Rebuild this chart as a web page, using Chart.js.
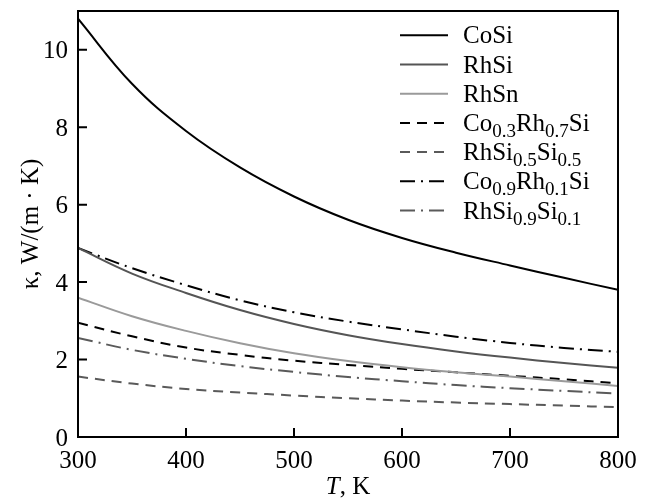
<!DOCTYPE html>
<html>
<head>
<meta charset="utf-8">
<script src="https://cdn.jsdelivr.net/npm/chart.js@4"></script>
<style>
  body { margin: 0; background: #fff; }
  canvas { display: block; }
</style>
</head>
<body>
<canvas id="kappaChart" width="648" height="499"></canvas>
<script>
// temperature grid, K
const temps = [300, 350, 400, 450, 500, 550, 600, 650, 700, 750, 800];

// thermal conductivity, W/(m·K)
const kCoSi = [10.8, 9.12, 7.9, 6.96, 6.21, 5.61, 5.14, 4.76, 4.43, 4.11, 3.8];
const kRhSi = [4.88, 4.22, 3.72, 3.28, 2.92, 2.63, 2.4, 2.21, 2.05, 1.91, 1.79];
const kRhSn = [3.6, 3.12, 2.74, 2.42, 2.16, 1.96, 1.8, 1.67, 1.56, 1.44, 1.32];
const kCo03 = [2.95, 2.6, 2.31, 2.12, 1.97, 1.86, 1.76, 1.67, 1.58, 1.49, 1.39];
const kRhSi05 = [1.56, 1.38, 1.24, 1.15, 1.07, 1.0, 0.94, 0.89, 0.85, 0.81, 0.77];
const kCo09 = [4.88, 4.36, 3.92, 3.53, 3.22, 2.98, 2.78, 2.59, 2.43, 2.3, 2.2];
const kRhSi09 = [2.56, 2.25, 2.02, 1.83, 1.68, 1.55, 1.44, 1.34, 1.26, 1.19, 1.12];

const xTicks = [300, 400, 500, 600, 700, 800];
const yTicks = [0, 2, 4, 6, 8, 10];

const FONT = '"Liberation Serif", "Times New Roman", serif';
const DASH = [10, 7];
const DASHDOT = [15, 6, 2, 6];

// label parts: [text, isSubscript]
const series = [
  { parts: [['CoSi', false]], data: kCoSi, color: '#000', dash: [] },
  { parts: [['RhSi', false]], data: kRhSi, color: '#555', dash: [] },
  { parts: [['RhSn', false]], data: kRhSn, color: '#9a9a9a', dash: [] },
  { parts: [['Co', false], ['0.3', true], ['Rh', false], ['0.7', true], ['Si', false]], data: kCo03, color: '#000', dash: DASH },
  { parts: [['RhSi', false], ['0.5', true], ['Si', false], ['0.5', true]], data: kRhSi05, color: '#5a5a5a', dash: DASH },
  { parts: [['Co', false], ['0.9', true], ['Rh', false], ['0.1', true], ['Si', false]], data: kCo09, color: '#000', dash: DASHDOT },
  { parts: [['RhSi', false], ['0.9', true], ['Si', false], ['0.1', true]], data: kRhSi09, color: '#5a5a5a', dash: DASHDOT }
];

const datasets = series.map(s => ({
  label: s.parts.map(p => p[0]).join(''),
  data: temps.map((t, i) => ({ x: t, y: s.data[i] })),
  borderColor: s.color,
  borderDash: s.dash,
  borderWidth: 2,
  pointRadius: 0,
  fill: false,
  tension: 0.4
}));

// frame, inward ticks, tick labels, axis titles and legend with subscripts
const decorations = {
  id: 'decorations',
  afterDraw(chart) {
    const { ctx, chartArea: a, scales } = chart;
    ctx.save();
    ctx.strokeStyle = '#000';
    ctx.lineWidth = 2;
    ctx.setLineDash([]);
    ctx.strokeRect(a.left, a.top, a.right - a.left, a.bottom - a.top);

    ctx.fillStyle = '#000';
    ctx.textBaseline = 'alphabetic';
    ctx.font = '25px ' + FONT;

    ctx.beginPath();
    ctx.textAlign = 'center';
    xTicks.forEach(v => {
      const px = scales.x.getPixelForValue(v);
      ctx.moveTo(px, a.bottom);
      ctx.lineTo(px, a.bottom - 9);
      ctx.fillText(String(v), px, a.bottom + 31);
    });
    ctx.textAlign = 'right';
    yTicks.forEach(v => {
      const py = scales.y.getPixelForValue(v);
      ctx.moveTo(a.left, py);
      ctx.lineTo(a.left + 9, py);
      ctx.fillText(String(v), a.left - 10, py + 8.5);
    });
    ctx.stroke();
    ctx.textAlign = 'left';

    // x title
    ctx.font = 'italic 25px ' + FONT;
    const tW = ctx.measureText('T').width;
    ctx.font = '25px ' + FONT;
    const restW = ctx.measureText(', K').width;
    let x0 = (a.left + a.right) / 2 - (tW + restW) / 2;
    ctx.font = 'italic 25px ' + FONT;
    ctx.fillText('T', x0, 494);
    ctx.font = '25px ' + FONT;
    ctx.fillText(', K', x0 + tW, 494);

    // y title
    ctx.save();
    ctx.translate(38, (a.top + a.bottom) / 2);
    ctx.rotate(-Math.PI / 2);
    ctx.textAlign = 'center';
    ctx.fillText('κ, W/(m · K)', 0, 0);
    ctx.restore();

    // legend
    series.forEach((s, i) => {
      const ly = 35.3 + i * 29.2;
      ctx.strokeStyle = s.color;
      ctx.lineWidth = 2;
      ctx.setLineDash(s.dash);
      ctx.beginPath();
      ctx.moveTo(400, ly);
      ctx.lineTo(448, ly);
      ctx.stroke();
      ctx.setLineDash([]);
      let tx = 463;
      s.parts.forEach(([txt, sub]) => {
        ctx.font = (sub ? '19px ' : '25px ') + FONT;
        ctx.fillText(txt, tx, ly + 8 + (sub ? 6 : 0));
        tx += ctx.measureText(txt).width;
      });
    });
    ctx.restore();
  }
};

new Chart(document.getElementById('kappaChart'), {
  type: 'line',
  data: { datasets },
  options: {
    responsive: false,
    animation: false,
    devicePixelRatio: 1,
    layout: { padding: { top: 11, right: 30, left: 0, bottom: 0 } },
    plugins: { legend: { display: false }, tooltip: { enabled: false } },
    scales: {
      x: {
        type: 'linear',
        min: 300,
        max: 800,
        afterFit: s => { s.height = 62; },
        afterBuildTicks: s => { s.ticks = xTicks.map(v => ({ value: v })); },
        grid: { display: false, drawTicks: false },
        border: { display: false },
        ticks: { display: false }
      },
      y: {
        min: 0,
        max: 11,
        afterFit: s => { s.width = 78; },
        afterBuildTicks: s => { s.ticks = yTicks.map(v => ({ value: v })); },
        grid: { display: false, drawTicks: false },
        border: { display: false },
        ticks: { display: false }
      }
    }
  },
  plugins: [decorations]
});
</script>
</body>
</html>
